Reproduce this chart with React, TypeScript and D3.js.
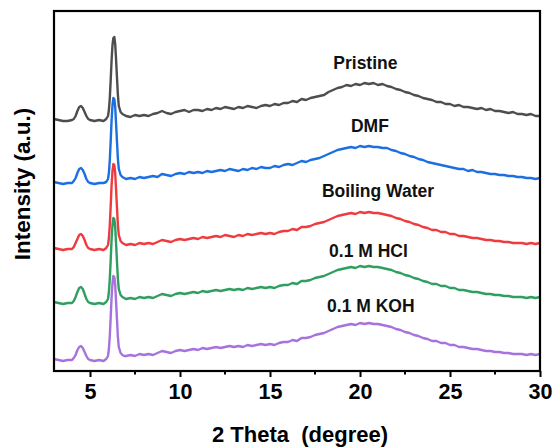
import React, { useEffect, useRef } from 'react';
import * as d3 from 'd3';

// 2 theta grid (degree), finer around the low-angle peaks
const twoTheta = [
  3.0, 3.25, 3.5, 3.75, 4.0, 4.1, 4.2, 4.3, 4.4, 4.5, 4.6, 4.7, 4.8, 4.9, 5.0, 5.25, 5.5, 5.75, 5.9,
  6.0, 6.05, 6.1, 6.15, 6.2, 6.25, 6.3, 6.35, 6.4, 6.45, 6.5, 6.55, 6.6, 6.7, 6.8, 6.9,
  7.0, 7.25, 7.5, 7.75, 8.0, 8.25, 8.5, 8.75,
  9.0, 9.25, 9.5, 9.75, 10.0, 10.25, 10.5, 10.75,
  11.0, 11.25, 11.5, 11.75, 12.0, 12.25, 12.5, 12.75,
  13.0, 13.25, 13.5, 13.75, 14.0, 14.25, 14.5, 14.75,
  15.0, 15.25, 15.5, 15.75, 16.0, 16.25, 16.5, 16.75,
  17.0, 17.25, 17.5, 17.75, 18.0, 18.25, 18.5, 18.75,
  19.0, 19.25, 19.5, 19.75, 20.0, 20.25, 20.5, 20.75,
  21.0, 21.25, 21.5, 21.75, 22.0, 22.25, 22.5, 22.75,
  23.0, 23.25, 23.5, 23.75, 24.0, 24.25, 24.5, 24.75,
  25.0, 25.25, 25.5, 25.75, 26.0, 26.25, 26.5, 26.75,
  27.0, 27.25, 27.5, 27.75, 28.0, 28.25, 28.5, 28.75,
  29.0, 29.25, 29.5, 29.75, 30.0,
];

// stacked intensities (a.u.), offset per sample
const pristine = [
  252, 251, 250, 250, 251, 252, 255, 260, 264, 265, 263, 259, 255, 252, 251, 250, 251, 250, 252,
  255, 261, 273, 291, 311, 326, 333, 334, 327, 311, 293, 276, 265, 259, 257, 256,
  255, 254, 256, 255, 256, 255, 257, 258,
  260, 258, 257, 259, 260, 261, 259, 261,
  261, 260, 262, 261, 263, 262, 264, 263,
  262, 264, 263, 265, 264, 263, 265, 266,
  265, 267, 266, 268, 268, 270, 269, 272,
  271, 273, 274, 275, 276, 279, 281, 283,
  284, 286, 285, 287, 286, 288, 287, 288,
  286, 287, 285, 284, 282, 281, 279, 278,
  276, 275, 273, 272, 271, 269, 269, 267,
  267, 265, 266, 264, 264, 263, 262, 263,
  261, 262, 260, 260, 259, 258, 259, 257,
  257, 256, 257, 255, 255,
];

const dmf = [
  189, 188, 187, 188, 188, 190, 193, 198, 202, 203, 201, 197, 192, 189, 188, 187, 188, 188, 189,
  192, 198, 211, 230, 251, 266, 273, 272, 264, 247, 229, 212, 202, 196, 194, 193,
  192, 193, 192, 194, 193, 194, 195, 194,
  197, 196, 195, 197, 198, 197, 199, 198,
  199, 198, 200, 199, 200, 201, 200, 202,
  201, 200, 202, 201, 203, 202, 204, 203,
  203, 205, 204, 206, 207, 206, 208, 210,
  209, 211, 212, 213, 215, 217, 219, 221,
  222, 223, 224, 223, 225, 224, 225, 224,
  224, 223, 223, 221, 220, 218, 217, 215,
  214, 212, 211, 209, 208, 207, 206, 205,
  204, 203, 202, 202, 200, 201, 199, 199,
  198, 197, 197, 196, 196, 195, 195, 194,
  194, 193, 193, 192, 193,
];

const boilingWater = [
  123, 122, 121, 122, 122, 124, 128, 132, 136, 137, 135, 131, 126, 123, 122, 121, 122, 121, 123,
  126, 133, 146, 165, 186, 200, 207, 206, 198, 181, 163, 146, 136, 130, 128, 127,
  126, 127, 126, 128, 127, 128, 127, 129,
  131, 130, 129, 131, 132, 131, 132, 133,
  132, 134, 133, 134, 135, 134, 136, 135,
  134, 136, 135, 137, 136, 137, 138, 137,
  138, 137, 139, 140, 140, 142, 141, 144,
  144, 145, 147, 148, 149, 151, 153, 155,
  156, 157, 158, 157, 159, 158, 159, 158,
  158, 157, 156, 155, 153, 152, 150, 149,
  147, 146, 144, 143, 141, 141, 139, 139,
  137, 137, 135, 135, 134, 133, 133, 132,
  131, 131, 130, 130, 129, 129, 128, 128,
  128, 127, 128, 127, 128,
];

const hcl = [
  69, 68, 67, 68, 68, 70, 74, 79, 83, 84, 82, 77, 72, 69, 68, 67, 68, 67, 69,
  72, 79, 92, 111, 132, 146, 153, 152, 144, 127, 109, 92, 82, 76, 74, 73,
  72, 73, 72, 74, 73, 74, 73, 75,
  77, 76, 75, 77, 78, 77, 78, 79,
  78, 80, 79, 80, 81, 80, 81, 82,
  81, 82, 81, 83, 82, 83, 84, 83,
  84, 83, 85, 86, 86, 88, 87, 90,
  90, 91, 93, 94, 95, 97, 99, 101,
  102, 103, 104, 103, 105, 104, 105, 104,
  104, 103, 102, 101, 99, 98, 96, 95,
  93, 92, 90, 89, 87, 87, 85, 85,
  83, 83, 81, 81, 80, 79, 79, 78,
  77, 77, 76, 76, 75, 75, 74, 74,
  74, 73, 74, 73, 74,
];

const koh = [
  12, 11, 10, 11, 11, 13, 16, 21, 24, 25, 23, 19, 15, 12, 11, 10, 11, 10, 12,
  15, 22, 35, 54, 74, 88, 95, 94, 86, 69, 51, 34, 24, 18, 16, 15,
  15, 16, 15, 17, 16, 17, 16, 18,
  20, 19, 18, 20, 21, 20, 21, 22,
  21, 23, 22, 23, 24, 23, 24, 25,
  24, 25, 24, 26, 25, 26, 27, 26,
  27, 26, 28, 29, 29, 31, 30, 33,
  33, 34, 36, 37, 38, 40, 42, 44,
  45, 46, 47, 46, 48, 47, 48, 47,
  47, 46, 45, 44, 42, 41, 39, 38,
  36, 35, 33, 32, 30, 30, 28, 28,
  26, 26, 24, 24, 23, 22, 22, 21,
  20, 20, 19, 19, 18, 18, 17, 17,
  17, 16, 17, 16, 17,
];

const sampleNames = ['Pristine', 'DMF', 'Boiling Water', '0.1 M HCl', '0.1 M KOH'];
const sampleColors = ['#4d4d4d', '#1c6fe3', '#ee3b3f', '#2f9e60', '#a771de'];
const labelTheta = [20.3, 20.55, 21.0, 20.47, 20.6];
const labelIntensity = [302, 239, 174, 114, 59];
const majorTicks = [5, 10, 15, 20, 25, 30];
const minorTicks = [7.5, 12.5, 17.5, 22.5, 27.5];

const App = () => {
  const ref = useRef(null);

  useEffect(() => {
    const W = 557;
    const H = 448;
    const margin = { top: 11, right: 17, bottom: 77, left: 54 };
    const font = "'Liberation Sans', Arial, sans-serif";

    const root = d3.select(ref.current);
    root.selectAll('*').remove();

    const svg = root.append('svg')
      .attr('width', W)
      .attr('height', H)
      .style('position', 'absolute')
      .style('left', 0)
      .style('top', 0)
      .style('background', '#fff');

    const x = d3.scaleLinear()
      .domain([3, 30])
      .range([margin.left, W - margin.right]);

    const y = d3.scaleLinear()
      .domain([0, 360])
      .range([H - margin.bottom, margin.top]);

    const allSeries = [pristine, dmf, boilingWater, hcl, koh];

    const line = d3.line()
      .x(d => x(d[0]))
      .y(d => y(d[1]));

    // curves, later ones on top
    allSeries.forEach((vals, i) => {
      const pts = twoTheta.map((t, k) => [t, vals[k]]);
      svg.append('path')
        .datum(pts)
        .attr('fill', 'none')
        .attr('stroke', sampleColors[i])
        .attr('stroke-width', 2.4)
        .attr('stroke-linejoin', 'round')
        .attr('d', line);
    });

    // sample labels
    sampleNames.forEach((name, i) => {
      svg.append('text')
        .attr('x', x(labelTheta[i]))
        .attr('y', y(labelIntensity[i]))
        .attr('text-anchor', 'middle')
        .attr('font-family', font)
        .attr('font-weight', 'bold')
        .attr('font-size', 17.5)
        .attr('fill', '#111')
        .text(name);
    });

    // frame
    svg.append('rect')
      .attr('x', margin.left)
      .attr('y', margin.top)
      .attr('width', W - margin.left - margin.right)
      .attr('height', H - margin.top - margin.bottom)
      .attr('fill', 'none')
      .attr('stroke', '#000')
      .attr('stroke-width', 2.2);

    // bottom axis
    const axis = svg.append('g')
      .attr('transform', `translate(0,${H - margin.bottom})`)
      .call(d3.axisBottom(x).tickValues(majorTicks).tickSize(6).tickPadding(7).tickFormat(d3.format('d')));
    axis.select('.domain').remove();
    axis.selectAll('line').attr('stroke', '#000').attr('stroke-width', 2);
    axis.selectAll('text')
      .attr('font-family', font)
      .attr('font-weight', 'bold')
      .attr('font-size', 21.5)
      .attr('fill', '#000');

    svg.append('g')
      .attr('transform', `translate(0,${H - margin.bottom})`)
      .selectAll('line')
      .data(minorTicks)
      .enter()
      .append('line')
      .attr('x1', d => x(d))
      .attr('x2', d => x(d))
      .attr('y1', 0)
      .attr('y2', 3.5)
      .attr('stroke', '#000')
      .attr('stroke-width', 2);

    // axis titles
    svg.append('text')
      .attr('x', (margin.left + W - margin.right) / 2 + 3)
      .attr('y', 442)
      .attr('text-anchor', 'middle')
      .attr('font-family', font)
      .attr('font-weight', 'bold')
      .attr('font-size', 22)
      .attr('xml:space', 'preserve')
      .style('white-space', 'pre')
      .attr('fill', '#000')
      .text('2 Theta  (degree)');

    svg.append('text')
      .attr('transform', `translate(30,${(margin.top + H - margin.bottom) / 2 - 7}) rotate(-90)`)
      .attr('text-anchor', 'middle')
      .attr('font-family', font)
      .attr('font-weight', 'bold')
      .attr('font-size', 22.5)
      .attr('fill', '#000')
      .text('Intensity (a.u.)');
  }, []);

  return <div ref={ref}></div>;
};

export default App;
